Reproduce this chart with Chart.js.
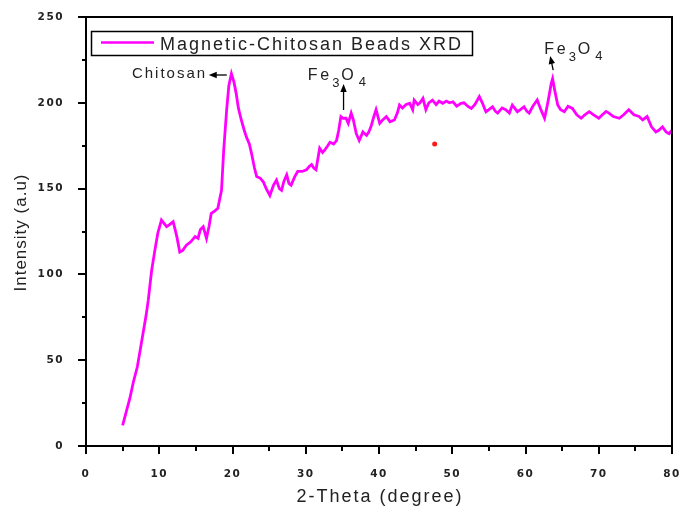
<!DOCTYPE html>
<html><head><meta charset="utf-8">
<script src="https://cdn.jsdelivr.net/npm/chart.js@4.4.0/dist/chart.umd.min.js"></script>
<style>html,body{margin:0;padding:0;background:#fff;}#wrap{width:679px;height:508px;}</style>
</head><body><div id="wrap"><canvas id="c" width="679" height="508"></canvas></div>
<script>
// ---- data ----
const seriesLabel = 'Magnetic-Chitosan Beads XRD';
const twoTheta = [5.0,5.5,6.0,6.45,7.0,7.4,7.8,8.2,8.5,8.95,9.4,9.8,10.3,10.6,11.0,11.4,11.9,12.4,12.8,13.2,13.7,14.3,14.9,15.3,15.6,16.0,16.45,16.8,17.1,17.6,18.0,18.5,18.8,19.2,19.5,19.85,20.2,20.5,20.8,21.2,21.6,21.9,22.3,22.6,23.0,23.3,23.8,24.2,24.6,25.1,25.6,26.0,26.4,26.7,27.0,27.4,27.7,28.0,28.5,28.9,29.5,30.1,30.5,30.8,31.1,31.4,31.9,32.3,32.6,33.0,33.3,33.8,34.2,34.5,34.8,35.1,35.5,35.8,36.2,36.5,36.9,37.3,37.8,38.3,38.6,38.9,39.3,39.6,40.1,40.5,41.0,41.5,42.1,42.5,42.8,43.2,43.7,44.2,44.6,44.8,45.3,45.6,46.0,46.4,46.8,47.3,47.8,48.2,48.7,49.2,49.6,50.1,50.6,51.2,51.6,52.1,52.6,53.1,53.7,54.1,54.6,55.0,55.5,55.9,56.2,56.8,57.3,57.8,58.2,58.9,59.3,59.8,60.2,60.5,61.0,61.6,62.1,62.6,62.9,63.2,63.5,63.7,64.0,64.4,64.8,65.3,65.8,66.4,67.0,67.6,68.1,68.7,69.3,70.0,70.5,71.0,71.4,72.0,72.8,73.4,74.1,74.8,75.5,76.0,76.6,77.2,77.8,78.2,78.7,79.2,79.6,80.0];
const intensity = [12,20,28,37,46,56,66,76,85,102,114,124,131.7,130,127.8,129,130.7,122,113,114,117,119,122,121,126,127.8,121,128,135.6,137,138.5,149,172.5,195.8,210,217,212,205.5,197,190,184,180,176,170.5,162,157,156,154,150,146,152,155,150,149,154,158,153,152,157,160,160,161,163,164,162,161,173.5,171,172.5,175,177,176,178,184,192,191,191,188,194,190,182,178,183,181,183,186,192,196,188,190,192,189,190,194,198.7,197,199,199.7,196,201.6,199,200,202.6,196,200,201.6,199,201,199.7,201,200,200.6,198,199.7,200,198,196.7,199,203.6,200,194.8,196,197.7,195,194,197,196,194,198.7,194.8,196,197.7,195,194,198,201.6,196,191,197,203.6,211,214,207,198.7,196,194.8,198,196.7,193,191,193,194.8,193,191,193,195,194,192,191,193,196,193,192,190,192,186,183,184,186,183,182,184];
const markerTheta = [47.6];
const markerIntensity = [176];
const xTickLabels = [0,10,20,30,40,50,60,70,80];
const yTickLabels = [0,50,100,150,200,250];
const xTitle = '2-Theta (degree)';
const yTitle = 'Intensity (a.u)';
// annotation anchors in data coordinates
const peakNotes = [
  {kind:'plain', text:'Chitosan', x:6.27, y:214.5, arrowFrom:[19.22,216.2], arrowTo:[16.76,216.2]},
  {kind:'fe3o4', x:30.26, y:213.3, arrowFrom:[35.16,195.8], arrowTo:[35.16,211.0]},
  {kind:'fe3o4', x:62.56, y:228.4, arrowFrom:[63.78,219.1], arrowTo:[63.37,227.3]}
];

const MAG = '#ff00ff';
const TXT = '#222';

function arrow(ctx, x1, y1, x2, y2) {
  const ang = Math.atan2(y2 - y1, x2 - x1);
  const L = 8, W = 3.2;
  ctx.beginPath(); ctx.moveTo(x1, y1);
  ctx.lineTo(x2 - Math.cos(ang) * (L - 1), y2 - Math.sin(ang) * (L - 1));
  ctx.stroke();
  ctx.beginPath();
  ctx.moveTo(x2, y2);
  ctx.lineTo(x2 - L * Math.cos(ang) + W * Math.sin(ang), y2 - L * Math.sin(ang) - W * Math.cos(ang));
  ctx.lineTo(x2 - L * Math.cos(ang) - W * Math.sin(ang), y2 - L * Math.sin(ang) + W * Math.cos(ang));
  ctx.closePath(); ctx.fill();
}

const decor = {
  id: 'decor',
  beforeDraw(chart) {
    const ctx = chart.ctx;
    ctx.save(); ctx.fillStyle = '#fff'; ctx.fillRect(0, 0, chart.width, chart.height); ctx.restore();
    ctx.letterSpacing = '1.5px';
  },
  beforeDatasetsDraw(chart) { chart.ctx.letterSpacing = '0px'; },
  afterDraw(chart) {
    const ctx = chart.ctx, a = chart.chartArea;
    const xs = chart.scales.x, ys = chart.scales.y;
    ctx.save();
    ctx.letterSpacing = '0px';
    ctx.strokeStyle = '#000'; ctx.lineWidth = 2;
    ctx.strokeRect(a.left, a.top, a.right - a.left, a.bottom - a.top);
    // ticks
    ctx.beginPath();
    for (let v = 0; v <= 250; v += 25) {
      const p = Math.round(ys.getPixelForValue(v));
      const len = (v % 50 === 0) ? 8 : 4;
      ctx.moveTo(a.left - len, p); ctx.lineTo(a.left, p);
    }
    for (let v = 0; v <= 80; v += 5) {
      const p = Math.round(xs.getPixelForValue(v));
      const len = (v % 10 === 0) ? 8 : 5;
      ctx.moveTo(p, a.bottom); ctx.lineTo(p, a.bottom + len);
    }
    ctx.stroke();
    // titles
    ctx.fillStyle = TXT;
    ctx.font = '18px "Liberation Sans", Arial, sans-serif';
    ctx.letterSpacing = '2px';
    ctx.textAlign = 'center'; ctx.textBaseline = 'middle';
    ctx.fillText(xTitle, (a.left + a.right) / 2 + 1, 497);
    ctx.save();
    ctx.translate(21, (a.top + a.bottom) / 2 + 1);
    ctx.rotate(-Math.PI / 2);
    ctx.font = '17px "Liberation Sans", Arial, sans-serif';
    ctx.letterSpacing = '1px';
    ctx.fillText(yTitle, 0, 0);
    ctx.restore();
    // legend
    ctx.lineWidth = 1.5; ctx.strokeStyle = '#000';
    ctx.strokeRect(91.5, 31.5, 381, 24);
    ctx.strokeStyle = MAG; ctx.lineWidth = 2.5;
    ctx.beginPath(); ctx.moveTo(101, 42.5); ctx.lineTo(154, 42.5); ctx.stroke();
    ctx.fillStyle = TXT; ctx.textAlign = 'left'; ctx.textBaseline = 'alphabetic';
    ctx.font = '18px "Liberation Sans", Arial, sans-serif';
    ctx.letterSpacing = '2px';
    ctx.fillText(seriesLabel, 160, 49.5);
    // annotations
    ctx.strokeStyle = '#000'; ctx.fillStyle = '#000'; ctx.lineWidth = 1.3;
    peakNotes.forEach(n => {
      const px = xs.getPixelForValue(n.x), py = ys.getPixelForValue(n.y);
      ctx.fillStyle = TXT;
      if (n.kind === 'plain') {
        ctx.font = '15px "Liberation Sans", Arial, sans-serif';
        ctx.letterSpacing = '2px';
        ctx.fillText(n.text, px, py);
      } else {
        ctx.letterSpacing = '0px';
        ctx.font = '16px "Liberation Sans", Arial, sans-serif';
        ctx.fillText('F', px, py);
        ctx.fillText('e', px + 12.5, py);
        ctx.fillText('O', px + 33.5, py);
        ctx.font = '13px "Liberation Sans", Arial, sans-serif';
        ctx.fillText('3', px + 24.5, py + 7);
        ctx.fillText('4', px + 51, py + 6);
      }
      ctx.fillStyle = '#000';
      arrow(ctx, xs.getPixelForValue(n.arrowFrom[0]), ys.getPixelForValue(n.arrowFrom[1]),
                 xs.getPixelForValue(n.arrowTo[0]), ys.getPixelForValue(n.arrowTo[1]));
    });
    ctx.restore();
  }
};

const tickFont = {family: '"DejaVu Sans", sans-serif', size: 10.5, weight: 'bold'};

new Chart(document.getElementById('c'), {
  type: 'line',
  data: {
    datasets: [
      {
        label: seriesLabel,
        data: twoTheta.map((x, i) => ({x: x, y: intensity[i]})),
        borderColor: MAG, borderWidth: 2.8, pointRadius: 0, tension: 0, fill: false,
        borderJoinStyle: 'miter'
      },
      {
        type: 'scatter', label: 'marker',
        data: markerTheta.map((x, i) => ({x: x, y: markerIntensity[i]})),
        pointRadius: 2.5, backgroundColor: '#ff1a1a', borderWidth: 0
      }
    ]
  },
  options: {
    responsive: false, animation: false,
    layout: {padding: {top: 17, right: 7, left: 0, bottom: 0}},
    plugins: {legend: {display: false}, tooltip: {enabled: false}},
    scales: {
      x: {
        type: 'linear', min: 0, max: 80,
        grid: {display: false}, border: {display: false},
        ticks: {stepSize: 5, autoSkip: false, maxRotation: 0, padding: 14, color: TXT, font: tickFont,
          callback: v => xTickLabels.includes(v) ? String(v) : ''},
        afterFit: s => { s.height = 62; s.paddingLeft = 0; s.paddingRight = 0; }
      },
      y: {
        type: 'linear', min: 0, max: 250,
        grid: {display: false}, border: {display: false},
        ticks: {stepSize: 25, autoSkip: false, padding: 14, color: TXT, font: tickFont,
          callback: v => yTickLabels.includes(v) ? String(v) : ''},
        afterFit: s => { s.width = 86; s.paddingTop = 0; s.paddingBottom = 0; }
      }
    }
  },
  plugins: [decor]
});
</script>
</body></html>
